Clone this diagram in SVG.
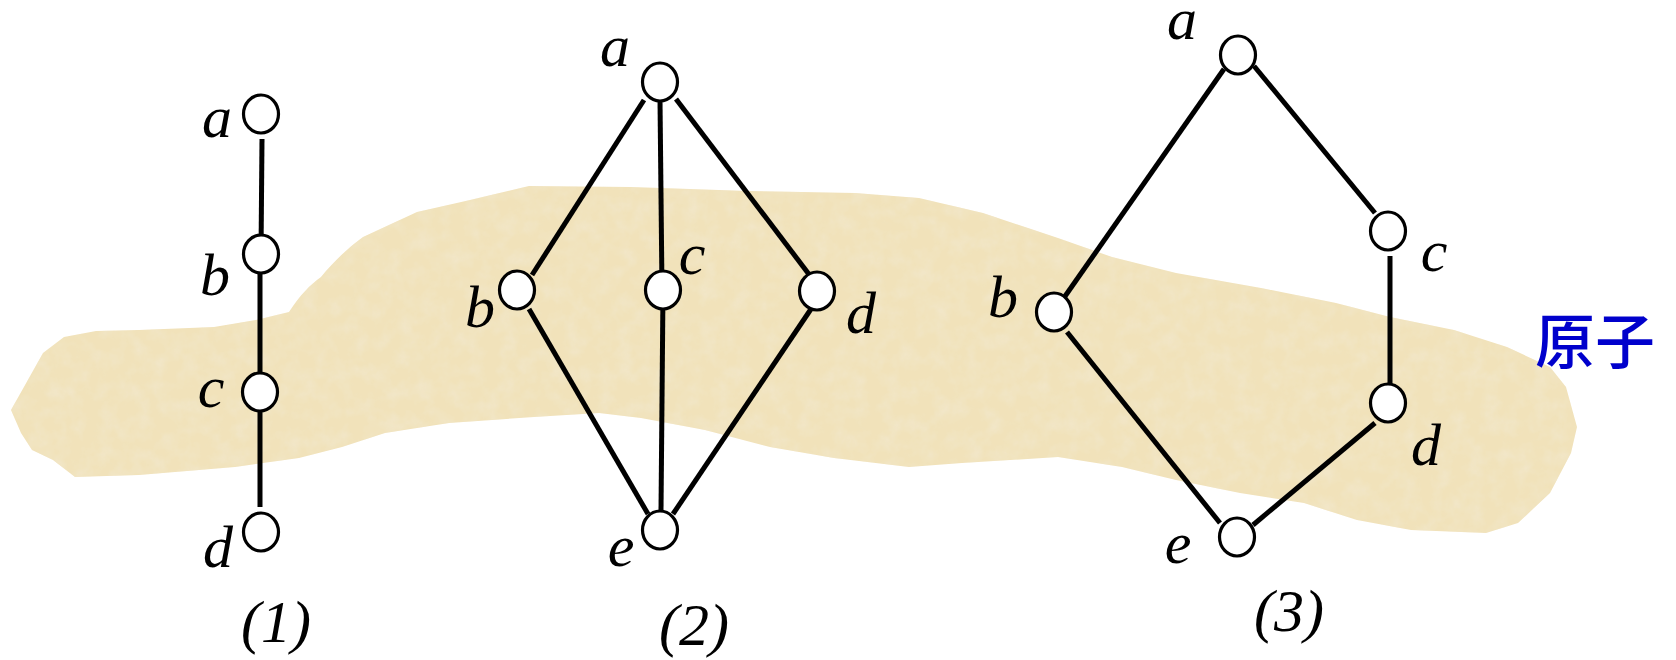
<svg xmlns="http://www.w3.org/2000/svg" width="1676" height="660" viewBox="0 0 1676 660">
<defs>
<filter id="paper" x="0" y="0" width="100%" height="100%">
<feTurbulence type="fractalNoise" baseFrequency="0.06" numOctaves="4" seed="7" result="n"/>
<feColorMatrix in="n" type="matrix" values="0 0 0 0 0.89  0 0 0 0 0.81  0 0 0 0 0.62  0 0 0 1.2 -0.45" result="c"/>
<feComposite in="c" in2="SourceGraphic" operator="in" result="t"/>
<feMerge><feMergeNode in="SourceGraphic"/><feMergeNode in="t"/></feMerge>
</filter>
<style>
.edge{stroke:#000;stroke-width:5;fill:none;stroke-linecap:butt}
.nd{fill:#fff;stroke:#000;stroke-width:3.2}
.lb{font-family:"Liberation Serif","Times New Roman",serif;font-style:italic;font-size:60px;fill:#000;text-anchor:middle}
.cap{font-family:"Liberation Serif","Times New Roman",serif;font-style:italic;font-size:60px;fill:#000;text-anchor:middle}
.atom{font-family:"Noto Sans CJK SC","Noto Sans CJK JP",sans-serif;font-size:60px;font-weight:500;fill:#0000CC}
</style>
</defs>
<rect width="1676" height="660" fill="#fff"/>
<g id="blob">
<path filter="url(#paper)" fill="#F1E2BA" d="M11,410 L43,353 L64,337 L96,331 L139,330 L214,327 L256,320 L289,312 C300,295 310,285 321,277 C335,260 348,248 363,237 L417,212 L470,200 L529,186 L631,187 L748,191 L855,193 L919,198 L983,213 L1058,238 L1112,257 L1176,273 L1261,288 L1336,303 L1390,317 L1454,330 L1507,347 L1550,367 L1566,387 L1577,427 L1571,453 L1550,493 L1518,523 L1486,533 L1411,530 L1357,520 L1304,503 L1240,493 L1176,480 L1122,467 L1058,457 L962,463 L909,467 L834,458 L770,447 L705,430 L641,418 L599,413 L534,417 L449,423 L385,433 L342,447 L299,458 L235,467 L139,475 L75,477 L53,460 L32,450 L21,433 Z"/>
</g>
<g id="connectors">
<line class="edge" x1="262" y1="139" x2="261" y2="254"/>
<line class="edge" x1="260" y1="254" x2="260" y2="392"/>
<line class="edge" x1="260" y1="392" x2="260" y2="507"/>
<line class="edge" x1="644" y1="100" x2="532" y2="275"/>
<line class="edge" x1="660" y1="100" x2="662" y2="290"/>
<line class="edge" x1="676" y1="99" x2="811" y2="277"/>
<line class="edge" x1="529" y1="309" x2="648" y2="514"/>
<line class="edge" x1="663" y1="290" x2="661" y2="511"/>
<line class="edge" x1="811" y1="309" x2="673" y2="514"/>
<line class="edge" x1="1224" y1="69" x2="1054" y2="312"/>
<line class="edge" x1="1254" y1="66" x2="1375" y2="213"/>
<line class="edge" x1="1390" y1="256" x2="1390" y2="403"/>
<line class="edge" x1="1067" y1="332" x2="1220" y2="523"/>
<line class="edge" x1="1375" y1="423" x2="1253" y2="525"/>
</g>
<g id="n1a"><ellipse class="nd" cx="261" cy="114" rx="17.5" ry="19"/><text class="lb" x="217" y="137">a</text></g>
<g id="n1b"><ellipse class="nd" cx="261" cy="254" rx="17.5" ry="19"/><text class="lb" x="215" y="295">b</text></g>
<g id="n1c"><ellipse class="nd" cx="260" cy="392" rx="17.5" ry="19"/><text class="lb" x="211" y="407">c</text></g>
<g id="n1d"><ellipse class="nd" cx="261" cy="532" rx="17.5" ry="19"/><text class="lb" x="218" y="567">d</text></g>
<g id="n2a"><ellipse class="nd" cx="660" cy="82" rx="17.5" ry="19"/><text class="lb" x="615" y="66">a</text></g>
<g id="n2b"><ellipse class="nd" cx="517" cy="290" rx="17.5" ry="19"/><text class="lb" x="480" y="327">b</text></g>
<g id="n2c"><ellipse class="nd" cx="663" cy="290" rx="17.5" ry="19"/><text class="lb" x="692" y="274">c</text></g>
<g id="n2d"><ellipse class="nd" cx="817" cy="291" rx="17.5" ry="19"/><text class="lb" x="861" y="333">d</text></g>
<g id="n2e"><ellipse class="nd" cx="660" cy="530" rx="17.5" ry="19"/><text class="lb" x="621" y="566">e</text></g>
<g id="n3a"><ellipse class="nd" cx="1238" cy="55" rx="17.5" ry="19"/><text class="lb" x="1182" y="39">a</text></g>
<g id="n3b"><ellipse class="nd" cx="1054" cy="312" rx="17.5" ry="19"/><text class="lb" x="1003" y="317">b</text></g>
<g id="n3c"><ellipse class="nd" cx="1388" cy="231" rx="17.5" ry="19"/><text class="lb" x="1434" y="271">c</text></g>
<g id="n3d"><ellipse class="nd" cx="1388" cy="403" rx="17.5" ry="19"/><text class="lb" x="1426" y="465">d</text></g>
<g id="n3e"><ellipse class="nd" cx="1237" cy="537" rx="17.5" ry="19"/><text class="lb" x="1178" y="563">e</text></g>
<g id="captions">
<text class="cap" x="276" y="642">(1)</text>
<text class="cap" x="694" y="645">(2)</text>
<text class="cap" x="1289" y="631">(3)</text>
</g>
<g id="atom-label"><text class="atom" x="1535" y="364">原子</text></g>
</svg>
